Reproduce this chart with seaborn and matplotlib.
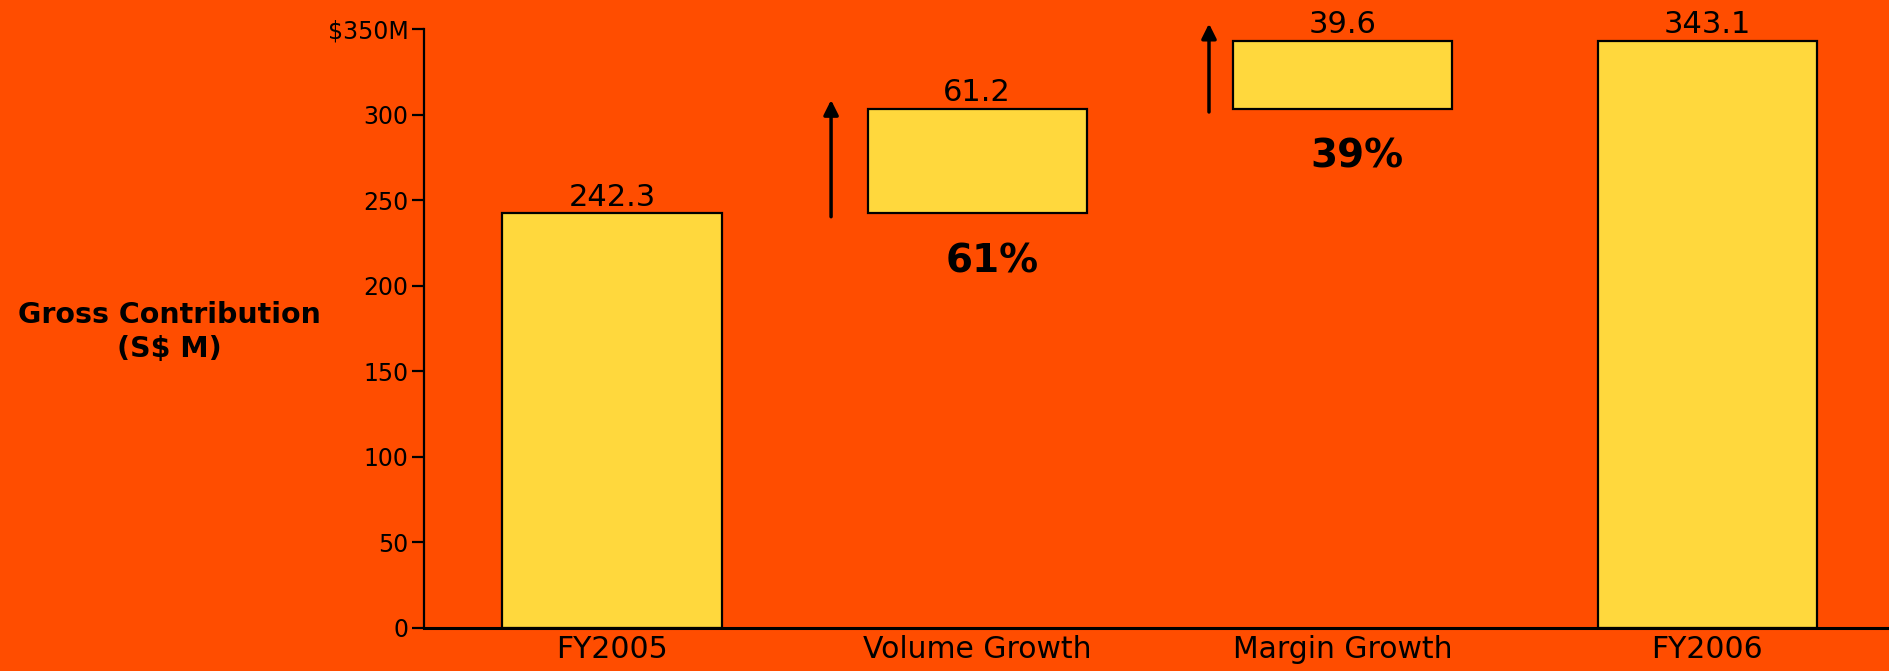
import matplotlib
matplotlib.use("Agg")
import matplotlib.pyplot as plt
import seaborn as sns
import pandas as pd

# Gross contribution bridge, FY2005 -> FY2006 (S$ M)
categories = ["FY2005", "Volume Growth", "Margin Growth", "FY2006"]
values = [242.3, 61.2, 39.6, 343.1]
bases = [0.0, 242.3, 303.5, 0.0]
value_labels = ["242.3", "61.2", "39.6", "343.1"]
share_labels = ["", "61%", "39%", ""]
ytick_values = [0, 50, 100, 150, 200, 250, 300, 350]
ytick_labels = ["0", "50", "100", "150", "200", "250", "300", "$350M"]

BG = "#FF4D00"
BAR = "#FFD83D"

sns.set_theme(style="white")
plt.rcParams["font.family"] = ["DejaVu Sans"]

fig = plt.figure(figsize=(18.9, 6.71), dpi=100, facecolor=BG)
ax = fig.add_axes([0.2243, 0.0641, 0.7757, 0.8927])
ax.set_facecolor(BG)

df = pd.DataFrame({"category": categories, "value": values, "base": bases})
sns.barplot(data=df, x="category", y="value", order=categories,
            color=BAR, saturation=1, width=0.6, errorbar=None,
            bottom=df["base"].values, edgecolor="black", linewidth=1.6, ax=ax)

ax.set_xlim(-0.515, 3.5)
ax.set_ylim(0, 350)
ax.set_yticks(ytick_values)
ax.set_yticklabels(ytick_labels)
ax.set_xlabel("")
ax.set_ylabel("")

for s in ["top", "right"]:
    ax.spines[s].set_visible(False)
ax.spines["left"].set_linewidth(1.6)
ax.spines["bottom"].set_linewidth(2.2)
for s in ["left", "bottom"]:
    ax.spines[s].set_color("black")

ax.tick_params(axis="y", direction="out", length=9, width=1.6, color="black",
               labelsize=17, pad=2, left=True)
ax.tick_params(axis="x", length=0, labelsize=21.5, pad=5)
for lab in ax.get_xticklabels() + ax.get_yticklabels():
    lab.set_color("black")

# value labels above each bar
for i, (b, v, t) in enumerate(zip(bases, values, value_labels)):
    ax.text(i, b + v + 1, t, ha="center", va="bottom", fontsize=22, color="black")

# growth arrows and share-of-growth labels for the floating steps
overshoot = [0, 5, 10, 0]
arrow_offset = [0, -0.40, -0.365, 0]
for i, (b, v, pct) in enumerate(zip(bases, values, share_labels)):
    if not pct:
        continue
    xa = i + arrow_offset[i]
    ax.annotate("", xy=(xa, b + v + overshoot[i]), xytext=(xa, b - 2),
                annotation_clip=False,
                arrowprops=dict(arrowstyle="-|>", color="black", lw=2.5,
                                mutation_scale=22, shrinkA=0, shrinkB=0))
    ax.text(i + 0.04, b - 28, pct, ha="center", va="center",
            fontsize=28, fontweight="bold", color="black")

fig.text(0.0895, 0.505, "Gross Contribution\n(S$ M)", ha="center", va="center",
         fontsize=20.5, fontweight="bold", color="black", linespacing=1.3)

fig.savefig("out.png", dpi=100, facecolor=BG)
